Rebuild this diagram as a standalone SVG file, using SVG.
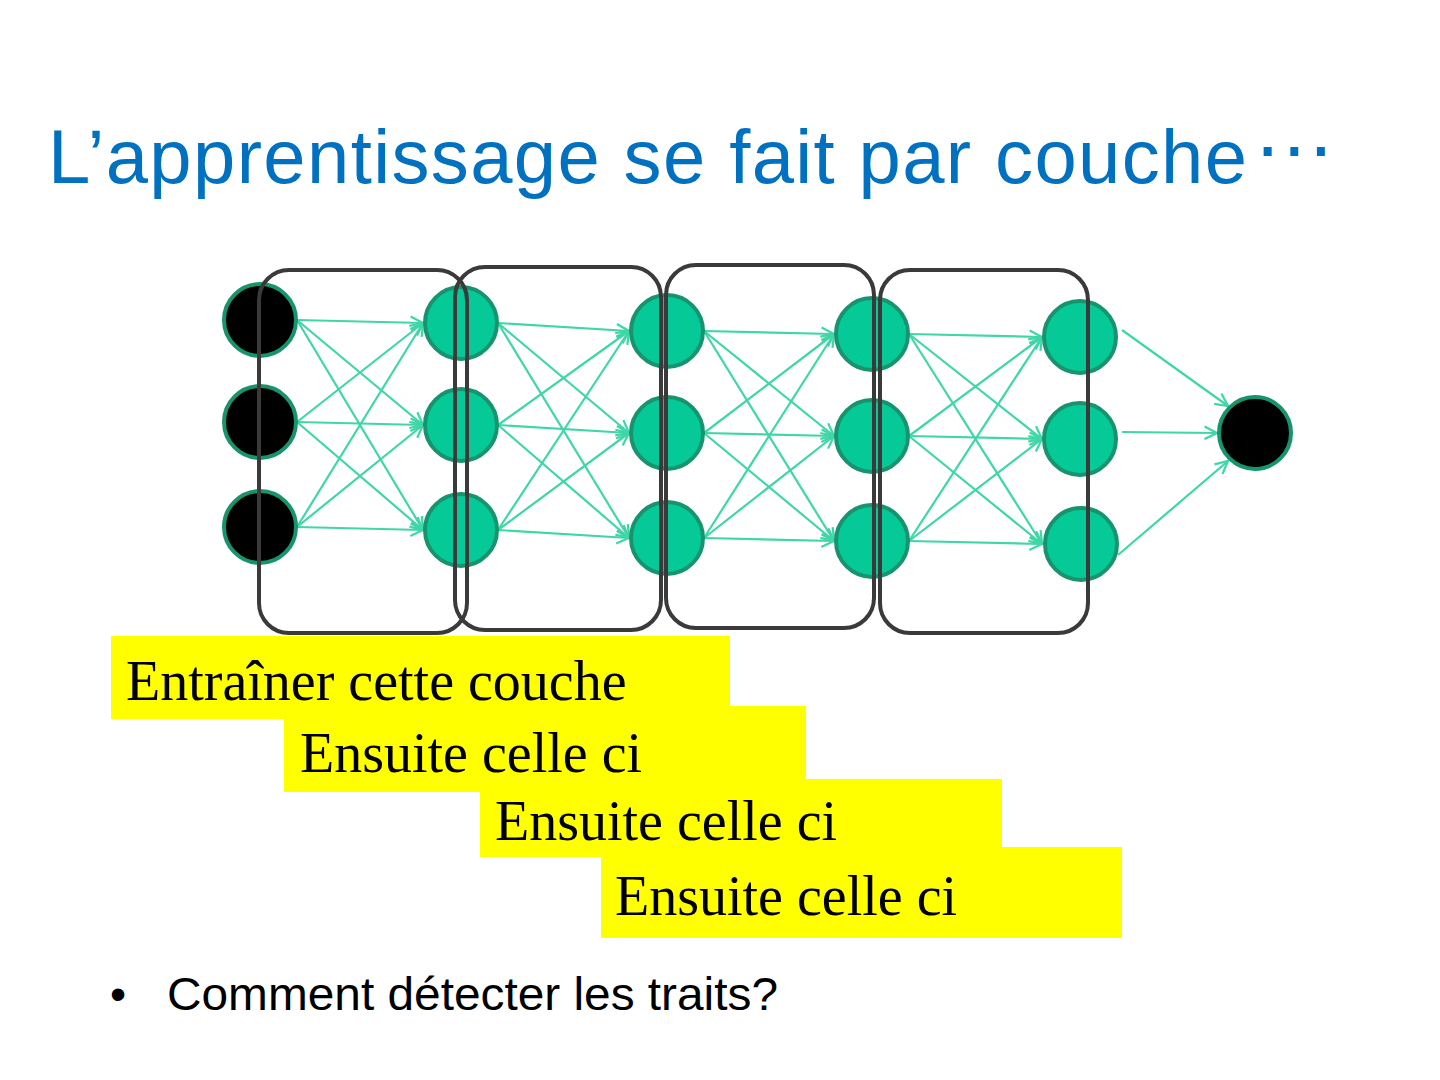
<svg xmlns="http://www.w3.org/2000/svg" width="1440" height="1080" viewBox="0 0 1440 1080">
<style>
.n{fill:#06C998;stroke:#17946E;stroke-width:4}
.b{fill:#000;stroke:#17946E;stroke-width:4}
.e{stroke:#3FD6A8;stroke-width:2.2;fill:none;marker-end:url(#ah)}
.box{fill:none;stroke:#3A3A3A;stroke-width:4}
.y{fill:#FFFF00}
.lbl{font-family:"Liberation Serif","Times New Roman",serif;font-size:56px;fill:#000}
</style>
<defs>
<marker id="ah" viewBox="0 0 12 12" refX="11" refY="6" markerWidth="15" markerHeight="15" markerUnits="userSpaceOnUse" orient="auto">
<path d="M1,1 L11,6 L1,11" fill="none" stroke="#3FD6A8" stroke-width="1.8"/>
</marker>
</defs>
<rect width="1440" height="1080" fill="#fff"/>
<text x="48" y="183" font-family="Liberation Sans, Arial, sans-serif" font-size="76" fill="#0070C0"><tspan textLength="1199" lengthAdjust="spacing">L’apprentissage se fait par couche</tspan><tspan dx="4" dy="-27" font-size="84">…</tspan></text>
<g id="connectors">
<path class="e" d="M297,320 L423,323"/><path class="e" d="M297,320 L423,425"/><path class="e" d="M297,320 L423,530"/>
<path class="e" d="M297,422 L423,323"/><path class="e" d="M297,422 L423,425"/><path class="e" d="M297,422 L423,530"/>
<path class="e" d="M297,527 L423,323"/><path class="e" d="M297,527 L423,425"/><path class="e" d="M297,527 L423,530"/>
<path class="e" d="M498,323 L629,331"/><path class="e" d="M498,323 L629,433"/><path class="e" d="M498,323 L629,538"/>
<path class="e" d="M498,425 L629,331"/><path class="e" d="M498,425 L629,433"/><path class="e" d="M498,425 L629,538"/>
<path class="e" d="M498,530 L629,331"/><path class="e" d="M498,530 L629,433"/><path class="e" d="M498,530 L629,538"/>
<path class="e" d="M704,331 L834,334"/><path class="e" d="M704,331 L834,436"/><path class="e" d="M704,331 L834,541"/>
<path class="e" d="M704,433 L834,334"/><path class="e" d="M704,433 L834,436"/><path class="e" d="M704,433 L834,541"/>
<path class="e" d="M704,538 L834,334"/><path class="e" d="M704,538 L834,436"/><path class="e" d="M704,538 L834,541"/>
<path class="e" d="M909,334 L1042,337"/><path class="e" d="M909,334 L1042,439"/><path class="e" d="M909,334 L1042,544"/>
<path class="e" d="M909,436 L1042,337"/><path class="e" d="M909,436 L1042,439"/><path class="e" d="M909,436 L1042,544"/>
<path class="e" d="M909,541 L1042,337"/><path class="e" d="M909,541 L1042,439"/><path class="e" d="M909,541 L1042,544"/>
<path class="e" d="M1122,330 L1228,406"/><path class="e" d="M1122,432 L1217,433"/><path class="e" d="M1118,555 L1228,461"/>
</g>
<g id="input1"><circle class="b" cx="260" cy="320" r="36"/></g>
<g id="input2"><circle class="b" cx="260" cy="422" r="36"/></g>
<g id="input3"><circle class="b" cx="260" cy="527" r="36"/></g>
<g id="h1a"><circle class="n" cx="461" cy="323" r="36"/></g>
<g id="h1b"><circle class="n" cx="461" cy="425" r="36"/></g>
<g id="h1c"><circle class="n" cx="461" cy="530" r="36"/></g>
<g id="h2a"><circle class="n" cx="667" cy="331" r="36"/></g>
<g id="h2b"><circle class="n" cx="667" cy="433" r="36"/></g>
<g id="h2c"><circle class="n" cx="667" cy="538" r="36"/></g>
<g id="h3a"><circle class="n" cx="872" cy="334" r="36"/></g>
<g id="h3b"><circle class="n" cx="872" cy="436" r="36"/></g>
<g id="h3c"><circle class="n" cx="872" cy="541" r="36"/></g>
<g id="h4a"><circle class="n" cx="1080" cy="337" r="36"/></g>
<g id="h4b"><circle class="n" cx="1080" cy="439" r="36"/></g>
<g id="h4c"><circle class="n" cx="1081" cy="544" r="36"/></g>
<g id="output"><circle class="b" cx="1255" cy="433" r="36"/></g>
<g id="layer-boxes">
<rect class="box" x="259" y="270" width="208" height="363" rx="30"/>
<rect class="box" x="455" y="267" width="206" height="363" rx="30"/>
<rect class="box" x="666" y="265" width="208" height="363" rx="30"/>
<rect class="box" x="880" y="270" width="208" height="363" rx="30"/>
</g>
<g id="label1"><rect class="y" x="111" y="636" width="619" height="83"/><text class="lbl" x="126" y="700">Entraîner cette couche</text></g>
<g id="label2"><rect class="y" x="284" y="706" width="522" height="86"/><text class="lbl" x="300" y="772">Ensuite celle ci</text></g>
<g id="label3"><rect class="y" x="480" y="779" width="522" height="78"/><text class="lbl" x="495" y="840">Ensuite celle ci</text></g>
<g id="label4"><rect class="y" x="601" y="847" width="521" height="91"/><text class="lbl" x="615" y="915">Ensuite celle ci</text></g>
<text y="1010" font-family="Liberation Sans, Arial, sans-serif" font-size="46" fill="#000"><tspan x="110">•</tspan><tspan x="167" textLength="611" lengthAdjust="spacingAndGlyphs">Comment détecter les traits?</tspan></text>
</svg>
